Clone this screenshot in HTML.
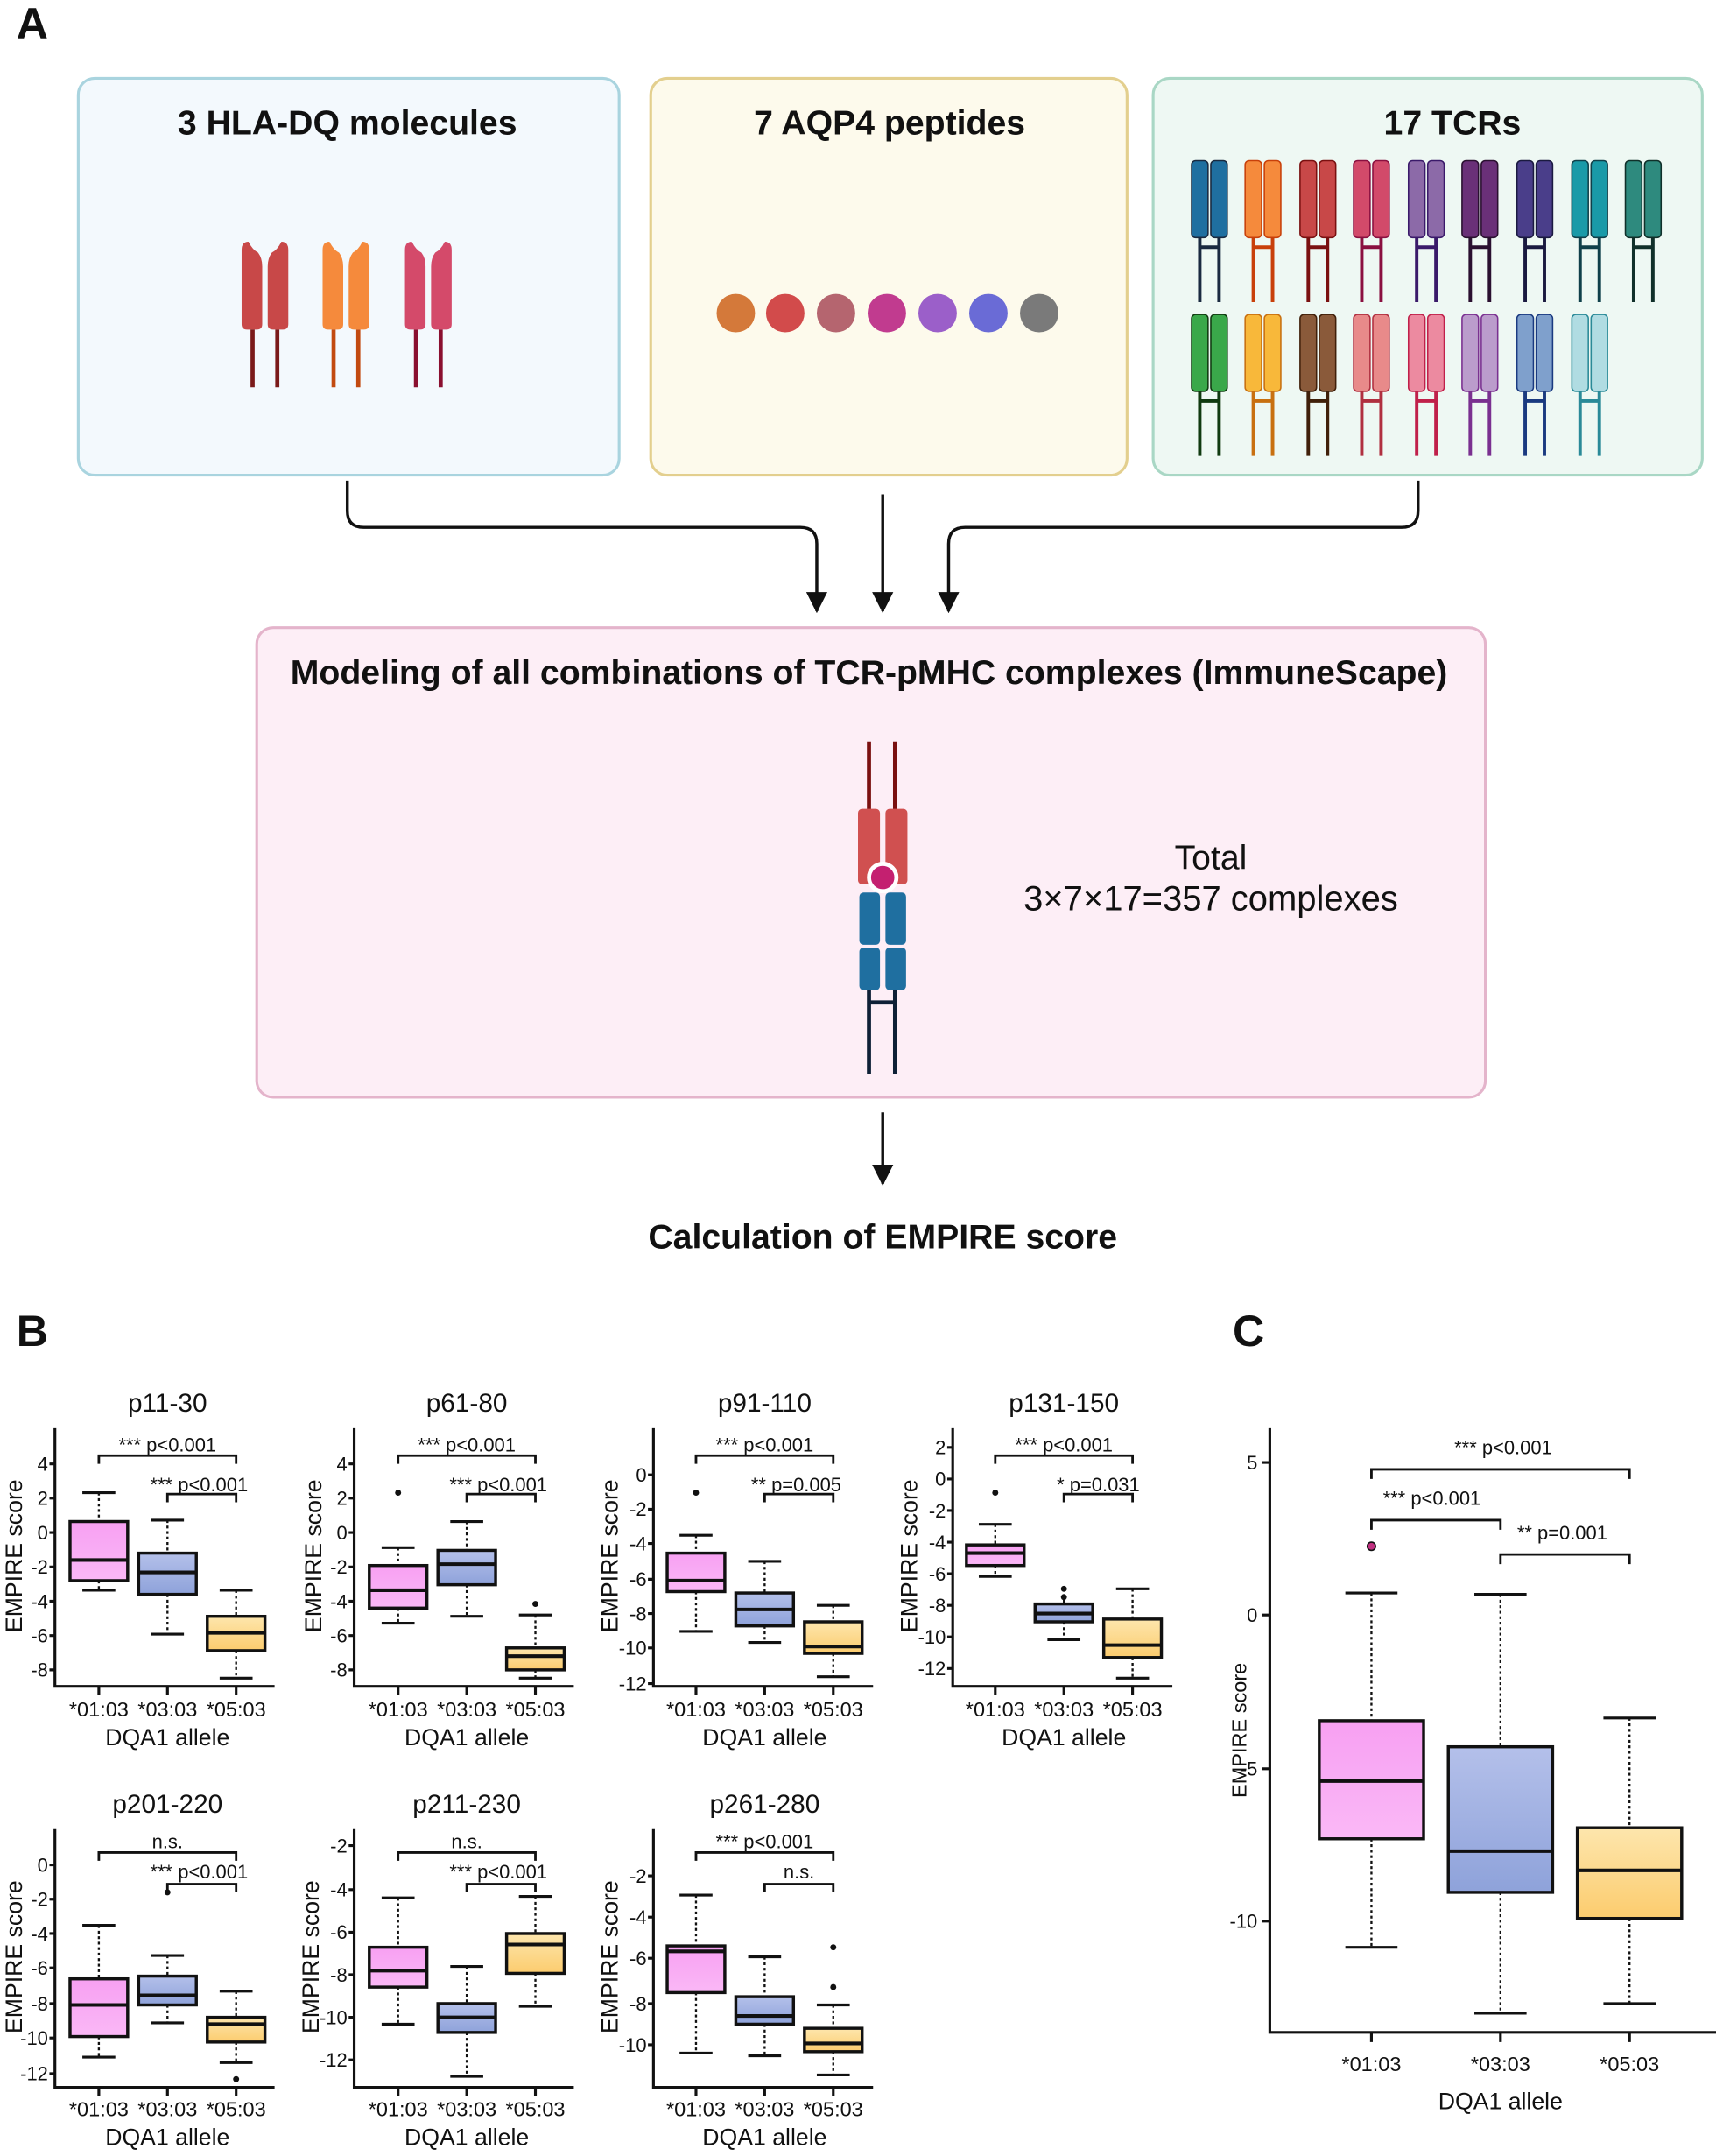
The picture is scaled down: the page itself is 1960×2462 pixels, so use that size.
<!DOCTYPE html>
<html><head><meta charset="utf-8"><style>
html,body{margin:0;padding:0;background:#fff}
svg{display:block}
text{font-family:"Liberation Sans",Arial,sans-serif;fill:#111}
.t{font-size:25px;font-weight:bold;text-anchor:middle}
.pt{font-size:19px;text-anchor:middle}
.tk{font-size:14px;text-anchor:end}
.xl{font-size:15px;text-anchor:middle}
.al{font-size:17px;text-anchor:middle}
.sg{font-size:14px;text-anchor:middle}
.ax{fill:none;stroke:#111;stroke-width:2}
.br{fill:none;stroke:#111;stroke-width:1.8}
.bx{stroke:#111;stroke-width:2.2}
.wh{stroke:#111;stroke-width:1.5;stroke-dasharray:2 2}
.cp{stroke:#111;stroke-width:2}
.md{stroke:#111;stroke-width:2.6}
</style></head><body>
<svg width="1960" height="2462" viewBox="0 0 1250 1570" preserveAspectRatio="none" xmlns="http://www.w3.org/2000/svg">
<defs>
<linearGradient id="gp" x1="0" y1="0" x2="0" y2="1"><stop offset="0" stop-color="#f7a0f2"/><stop offset="1" stop-color="#fab8f6"/></linearGradient>
<linearGradient id="gb" x1="0" y1="0" x2="0" y2="1"><stop offset="0" stop-color="#b4c0ea"/><stop offset="1" stop-color="#8ea2da"/></linearGradient>
<linearGradient id="gy" x1="0" y1="0" x2="0" y2="1"><stop offset="0" stop-color="#fde6ad"/><stop offset="1" stop-color="#fccc6e"/></linearGradient>
<marker id="ar" viewBox="0 0 10 10" refX="9" refY="5" markerWidth="7" markerHeight="7" orient="auto"><path d="M0,0 L10,5 L0,10 z" fill="#111"/></marker>
</defs>

<text x="12" y="28" style="font-size:32px;font-weight:bold">A</text>
<rect x="57" y="57" width="394" height="289" rx="12" fill="#f3f9fd" stroke="#a9d4df" stroke-width="2"/>
<rect x="474" y="57" width="347" height="289" rx="12" fill="#fdfaec" stroke="#e3cf8e" stroke-width="2"/>
<rect x="840" y="57" width="400" height="289" rx="12" fill="#eef8f3" stroke="#a9d7c5" stroke-width="2"/>
<text class="t" x="253" y="98">3 HLA-DQ molecules</text>
<text class="t" x="648" y="98">7 AQP4 peptides</text>
<text class="t" x="1058" y="98">17 TCRs</text>

<!-- MHC -->
<g>
<path d="M176 182 Q176 176 181 176 Q184 182 188 184 Q191 188 191 194 V236 Q191 240 187 240 H180 Q176 240 176 236Z" fill="#c84848"/>
<path d="M210 182 Q210 176 205 176 Q202 182 198 184 Q195 188 195 194 V236 Q195 240 199 240 H206 Q210 240 210 236Z" fill="#c84848"/>
<line x1="184" y1="240" x2="184" y2="282" stroke="#7a1a1a" stroke-width="3"/><line x1="202" y1="240" x2="202" y2="282" stroke="#7a1a1a" stroke-width="3"/>
<path d="M235 182 Q235 176 240 176 Q243 182 247 184 Q250 188 250 194 V236 Q250 240 246 240 H239 Q235 240 235 236Z" fill="#f58a3c"/>
<path d="M269 182 Q269 176 264 176 Q261 182 257 184 Q254 188 254 194 V236 Q254 240 258 240 H265 Q269 240 269 236Z" fill="#f58a3c"/>
<line x1="243" y1="240" x2="243" y2="282" stroke="#c24a10" stroke-width="3"/><line x1="261" y1="240" x2="261" y2="282" stroke="#c24a10" stroke-width="3"/>
<path d="M295 182 Q295 176 300 176 Q303 182 307 184 Q310 188 310 194 V236 Q310 240 306 240 H299 Q295 240 295 236Z" fill="#d44a6a"/>
<path d="M329 182 Q329 176 324 176 Q321 182 317 184 Q314 188 314 194 V236 Q314 240 318 240 H325 Q329 240 329 236Z" fill="#d44a6a"/>
<line x1="303" y1="240" x2="303" y2="282" stroke="#8a1030" stroke-width="3"/><line x1="321" y1="240" x2="321" y2="282" stroke="#8a1030" stroke-width="3"/>
</g>

<!-- peptides -->
<circle cx="536" cy="228" r="14" fill="#d4793a"/><circle cx="572" cy="228" r="14" fill="#d24b4b"/><circle cx="609" cy="228" r="14" fill="#b5656f"/><circle cx="646" cy="228" r="14" fill="#c13b8f"/><circle cx="683" cy="228" r="14" fill="#9b5fc9"/><circle cx="720" cy="228" r="14" fill="#6a6bd6"/><circle cx="757" cy="228" r="14" fill="#7a7a7a"/>

<!-- TCRs row1 -->
<g>
<g fill="#1f6fa0" stroke="#1a2a40"><rect x="868" y="117" width="12" height="56" rx="3"/><rect x="882" y="117" width="12" height="56" rx="3"/><path d="M874 173v47M888 173v47M874 180h14" stroke-width="2.5" fill="none"/></g>
<g fill="#f58a3c" stroke="#c8400a"><rect x="907" y="117" width="12" height="56" rx="3"/><rect x="921" y="117" width="12" height="56" rx="3"/><path d="M913 173v47M927 173v47M913 180h14" stroke-width="2.5" fill="none"/></g>
<g fill="#c84848" stroke="#7a1010"><rect x="947" y="117" width="12" height="56" rx="3"/><rect x="961" y="117" width="12" height="56" rx="3"/><path d="M953 173v47M967 173v47M953 180h14" stroke-width="2.5" fill="none"/></g>
<g fill="#d24a6a" stroke="#8a1040"><rect x="986" y="117" width="12" height="56" rx="3"/><rect x="1000" y="117" width="12" height="56" rx="3"/><path d="M992 173v47M1006 173v47M992 180h14" stroke-width="2.5" fill="none"/></g>
<g fill="#8c6aa8" stroke="#3a1a6a"><rect x="1026" y="117" width="12" height="56" rx="3"/><rect x="1040" y="117" width="12" height="56" rx="3"/><path d="M1032 173v47M1046 173v47M1032 180h14" stroke-width="2.5" fill="none"/></g>
<g fill="#6a3078" stroke="#2a1030"><rect x="1065" y="117" width="12" height="56" rx="3"/><rect x="1079" y="117" width="12" height="56" rx="3"/><path d="M1071 173v47M1085 173v47M1071 180h14" stroke-width="2.5" fill="none"/></g>
<g fill="#4a3e8a" stroke="#1a1a40"><rect x="1105" y="117" width="12" height="56" rx="3"/><rect x="1119" y="117" width="12" height="56" rx="3"/><path d="M1111 173v47M1125 173v47M1111 180h14" stroke-width="2.5" fill="none"/></g>
<g fill="#1a9aa8" stroke="#10404a"><rect x="1145" y="117" width="12" height="56" rx="3"/><rect x="1159" y="117" width="12" height="56" rx="3"/><path d="M1151 173v47M1165 173v47M1151 180h14" stroke-width="2.5" fill="none"/></g>
<g fill="#2e8a7e" stroke="#10302a"><rect x="1184" y="117" width="12" height="56" rx="3"/><rect x="1198" y="117" width="12" height="56" rx="3"/><path d="M1190 173v47M1204 173v47M1190 180h14" stroke-width="2.5" fill="none"/></g>
</g>
<g>
<g fill="#3aa84a" stroke="#103a10"><rect x="868" y="229" width="12" height="56" rx="3"/><rect x="882" y="229" width="12" height="56" rx="3"/><path d="M874 285v47M888 285v47M874 292h14" stroke-width="2.5" fill="none"/></g>
<g fill="#f8b83a" stroke="#c87010"><rect x="907" y="229" width="12" height="56" rx="3"/><rect x="921" y="229" width="12" height="56" rx="3"/><path d="M913 285v47M927 285v47M913 292h14" stroke-width="2.5" fill="none"/></g>
<g fill="#8a5a3a" stroke="#40200a"><rect x="947" y="229" width="12" height="56" rx="3"/><rect x="961" y="229" width="12" height="56" rx="3"/><path d="M953 285v47M967 285v47M953 292h14" stroke-width="2.5" fill="none"/></g>
<g fill="#e88a8a" stroke="#b03040"><rect x="986" y="229" width="12" height="56" rx="3"/><rect x="1000" y="229" width="12" height="56" rx="3"/><path d="M992 285v47M1006 285v47M992 292h14" stroke-width="2.5" fill="none"/></g>
<g fill="#ec8aa0" stroke="#c0204a"><rect x="1026" y="229" width="12" height="56" rx="3"/><rect x="1040" y="229" width="12" height="56" rx="3"/><path d="M1032 285v47M1046 285v47M1032 292h14" stroke-width="2.5" fill="none"/></g>
<g fill="#bb9ccc" stroke="#7a3090"><rect x="1065" y="229" width="12" height="56" rx="3"/><rect x="1079" y="229" width="12" height="56" rx="3"/><path d="M1071 285v47M1085 285v47M1071 292h14" stroke-width="2.5" fill="none"/></g>
<g fill="#7fa0cc" stroke="#1a3a80"><rect x="1105" y="229" width="12" height="56" rx="3"/><rect x="1119" y="229" width="12" height="56" rx="3"/><path d="M1111 285v47M1125 285v47M1111 292h14" stroke-width="2.5" fill="none"/></g>
<g fill="#b0dce2" stroke="#2a8a98"><rect x="1145" y="229" width="12" height="56" rx="3"/><rect x="1159" y="229" width="12" height="56" rx="3"/><path d="M1151 285v47M1165 285v47M1151 292h14" stroke-width="2.5" fill="none"/></g>
</g>

<!-- arrows -->
<path d="M253 350 V372 q0 12 12 12 H583 q12 0 12 12 V445" fill="none" stroke="#111" stroke-width="2.2" marker-end="url(#ar)"/>
<path d="M643 360 V445" fill="none" stroke="#111" stroke-width="2.2" marker-end="url(#ar)"/>
<path d="M1033 350 V372 q0 12-12 12 H703 q-12 0-12 12 V445" fill="none" stroke="#111" stroke-width="2.2" marker-end="url(#ar)"/>

<rect x="187" y="457" width="895" height="342" rx="12" fill="#fdeef6" stroke="#e4b4cb" stroke-width="2"/>
<text class="t" x="633" y="498" style="font-size:25px">Modeling of all combinations of TCR-pMHC complexes (ImmuneScape)</text>
<!-- complex -->
<line x1="633" y1="540" x2="633" y2="592" stroke="#7a1010" stroke-width="3"/><line x1="652" y1="540" x2="652" y2="592" stroke="#7a1010" stroke-width="3"/>
<rect x="625" y="589" width="16" height="55" rx="3" fill="#d05050"/><rect x="645" y="589" width="16" height="55" rx="3" fill="#d05050"/>
<rect x="626" y="650" width="15" height="38" rx="3" fill="#1f6fa0"/><rect x="645" y="650" width="15" height="38" rx="3" fill="#1f6fa0"/>
<rect x="626" y="690" width="15" height="31" rx="3" fill="#1f6fa0"/><rect x="645" y="690" width="15" height="31" rx="3" fill="#1f6fa0"/>
<circle cx="643" cy="639" r="10" fill="#c42070" stroke="#fff" stroke-width="3"/>
<path d="M633 721V782M652 721V782M633 730h19" stroke="#0e2036" stroke-width="3" fill="none"/>
<text x="882" y="633" style="font-size:25px;text-anchor:middle">Total</text>
<text x="882" y="663" style="font-size:25.5px;text-anchor:middle">3×7×17=357 complexes</text>
<path d="M643 810 V862" fill="none" stroke="#111" stroke-width="2.2" marker-end="url(#ar)"/>
<text class="t" x="643" y="909">Calculation of EMPIRE score</text>

<text x="12" y="980" style="font-size:32px;font-weight:bold">B</text>
<text x="898" y="980" style="font-size:32px;font-weight:bold">C</text>

<!-- Panel 1 p11-30 -->
<g>
<text class="pt" x="122" y="1028">p11-30</text>
<path class="ax" d="M40 1040V1228H200M72 1228v6M122 1228v6M172 1228v6M36 1066h4M36 1091h4M36 1116h4M36 1141h4M36 1166h4M36 1191h4M36 1216h4"/>
<text class="tk" x="35" y="1071">4</text><text class="tk" x="35" y="1096">2</text><text class="tk" x="35" y="1121">0</text><text class="tk" x="35" y="1146">-2</text><text class="tk" x="35" y="1171">-4</text><text class="tk" x="35" y="1196">-6</text><text class="tk" x="35" y="1221">-8</text>
<text class="al" transform="translate(16 1133) rotate(-90)">EMPIRE score</text>
<text class="xl" x="72" y="1250">*01:03</text><text class="xl" x="122" y="1250">*03:03</text><text class="xl" x="172" y="1250">*05:03</text>
<text class="al" x="122" y="1271">DQA1 allele</text>
<path class="br" d="M72 1066v-6h100v6M122 1094v-6h50v6"/>
<text class="sg" x="122" y="1057">*** p&lt;0.001</text><text class="sg" x="145" y="1086">*** p&lt;0.001</text>
<path class="cp" d="M60 1087h24M60 1158h24M110 1107h24M110 1190h24M160 1158h24M160 1222h24"/>
<path class="wh" d="M72 1087v21M72 1151v7M122 1107v24M122 1161v29M172 1158v19M172 1202v20"/>
<rect class="bx" x="51" y="1108" width="42" height="43" fill="url(#gp)"/><rect class="bx" x="101" y="1131" width="42" height="30" fill="url(#gb)"/><rect class="bx" x="151" y="1177" width="42" height="25" fill="url(#gy)"/>
<path class="md" d="M51 1136h42M101 1145h42M151 1189h42"/>
</g>

<!-- Panel 2 p61-80 -->
<g>
<text class="pt" x="340" y="1028">p61-80</text>
<path class="ax" d="M258 1040V1228H418M290 1228v6M340 1228v6M390 1228v6M254 1066h4M254 1091h4M254 1116h4M254 1141h4M254 1166h4M254 1191h4M254 1216h4"/>
<text class="tk" x="253" y="1071">4</text><text class="tk" x="253" y="1096">2</text><text class="tk" x="253" y="1121">0</text><text class="tk" x="253" y="1146">-2</text><text class="tk" x="253" y="1171">-4</text><text class="tk" x="253" y="1196">-6</text><text class="tk" x="253" y="1221">-8</text>
<text class="al" transform="translate(234 1133) rotate(-90)">EMPIRE score</text>
<text class="xl" x="290" y="1250">*01:03</text><text class="xl" x="340" y="1250">*03:03</text><text class="xl" x="390" y="1250">*05:03</text>
<text class="al" x="340" y="1271">DQA1 allele</text>
<path class="br" d="M290 1066v-6h100v6M340 1094v-6h50v6"/>
<text class="sg" x="340" y="1057">*** p&lt;0.001</text><text class="sg" x="363" y="1086">*** p&lt;0.001</text>
<circle cx="290" cy="1087" r="2.2" fill="#111"/><circle cx="390" cy="1168" r="2.2" fill="#111"/>
<path class="cp" d="M278 1127h24M278 1182h24M328 1108h24M328 1177h24M378 1176h24M378 1222h24"/>
<path class="wh" d="M290 1127v13M290 1171v11M340 1108v21M340 1154v23M390 1176v24M390 1216v6"/>
<rect class="bx" x="269" y="1140" width="42" height="31" fill="url(#gp)"/><rect class="bx" x="319" y="1129" width="42" height="25" fill="url(#gb)"/><rect class="bx" x="369" y="1200" width="42" height="16" fill="url(#gy)"/>
<path class="md" d="M269 1158h42M319 1139h42M369 1206h42"/>
</g>

<!-- Panel 3 p91-110 -->
<g>
<text class="pt" x="557" y="1028">p91-110</text>
<path class="ax" d="M476 1040V1228H636M507 1228v6M557 1228v6M607 1228v6M472 1074h4M472 1099h4M472 1124h4M472 1150h4M472 1175h4M472 1200h4M472 1226h4"/>
<text class="tk" x="471" y="1079">0</text><text class="tk" x="471" y="1104">-2</text><text class="tk" x="471" y="1129">-4</text><text class="tk" x="471" y="1155">-6</text><text class="tk" x="471" y="1180">-8</text><text class="tk" x="471" y="1205">-10</text><text class="tk" x="471" y="1231">-12</text>
<text class="al" transform="translate(450 1133) rotate(-90)">EMPIRE score</text>
<text class="xl" x="507" y="1250">*01:03</text><text class="xl" x="557" y="1250">*03:03</text><text class="xl" x="607" y="1250">*05:03</text>
<text class="al" x="557" y="1271">DQA1 allele</text>
<path class="br" d="M507 1066v-6h100v6M557 1094v-6h50v6"/>
<text class="sg" x="557" y="1057">*** p&lt;0.001</text><text class="sg" x="580" y="1086">** p=0.005</text>
<circle cx="507" cy="1087" r="2.2" fill="#111"/>
<path class="cp" d="M495 1118h24M495 1188h24M545 1137h24M545 1196h24M595 1169h24M595 1221h24"/>
<path class="wh" d="M507 1118v13M507 1159v29M557 1137v23M557 1184v12M607 1169v12M607 1204v17"/>
<rect class="bx" x="486" y="1131" width="42" height="28" fill="url(#gp)"/><rect class="bx" x="536" y="1160" width="42" height="24" fill="url(#gb)"/><rect class="bx" x="586" y="1181" width="42" height="23" fill="url(#gy)"/>
<path class="md" d="M486 1151h42M536 1172h42M586 1199h42"/>
</g>

<!-- Panel 4 p131-150 -->
<g>
<text class="pt" x="775" y="1028">p131-150</text>
<path class="ax" d="M694 1040V1228H854M725 1228v6M775 1228v6M825 1228v6M690 1054h4M690 1077h4M690 1100h4M690 1123h4M690 1146h4M690 1169h4M690 1192h4M690 1215h4"/>
<text class="tk" x="689" y="1059">2</text><text class="tk" x="689" y="1082">0</text><text class="tk" x="689" y="1105">-2</text><text class="tk" x="689" y="1128">-4</text><text class="tk" x="689" y="1151">-6</text><text class="tk" x="689" y="1174">-8</text><text class="tk" x="689" y="1197">-10</text><text class="tk" x="689" y="1220">-12</text>
<text class="al" transform="translate(668 1133) rotate(-90)">EMPIRE score</text>
<text class="xl" x="725" y="1250">*01:03</text><text class="xl" x="775" y="1250">*03:03</text><text class="xl" x="825" y="1250">*05:03</text>
<text class="al" x="775" y="1271">DQA1 allele</text>
<path class="br" d="M725 1066v-6h100v6M775 1094v-6h50v6"/>
<text class="sg" x="775" y="1057">*** p&lt;0.001</text><text class="sg" x="800" y="1086">* p=0.031</text>
<circle cx="725" cy="1087" r="2.2" fill="#111"/><circle cx="775" cy="1157" r="2.2" fill="#111"/><circle cx="775" cy="1163" r="2.2" fill="#111"/>
<path class="cp" d="M713 1110h24M713 1148h24M763 1168h24M763 1194h24M813 1157h24M813 1222h24"/>
<path class="wh" d="M725 1110v15M725 1140v8M775 1157v11M775 1181v13M825 1157v22M825 1207v15"/>
<rect class="bx" x="704" y="1125" width="42" height="15" fill="url(#gp)"/><rect class="bx" x="754" y="1168" width="42" height="13" fill="url(#gb)"/><rect class="bx" x="804" y="1179" width="42" height="28" fill="url(#gy)"/>
<path class="md" d="M704 1131h42M754 1175h42M804 1198h42"/>
</g>

<!-- Panel 5 p201-220 -->
<g>
<text class="pt" x="122" y="1320">p201-220</text>
<path class="ax" d="M40 1332V1520H200M72 1520v6M122 1520v6M172 1520v6M36 1358h4M36 1383h4M36 1408h4M36 1433h4M36 1459h4M36 1484h4M36 1510h4"/>
<text class="tk" x="35" y="1363">0</text><text class="tk" x="35" y="1388">-2</text><text class="tk" x="35" y="1413">-4</text><text class="tk" x="35" y="1438">-6</text><text class="tk" x="35" y="1464">-8</text><text class="tk" x="35" y="1489">-10</text><text class="tk" x="35" y="1515">-12</text>
<text class="al" transform="translate(16 1425) rotate(-90)">EMPIRE score</text>
<text class="xl" x="72" y="1541">*01:03</text><text class="xl" x="122" y="1541">*03:03</text><text class="xl" x="172" y="1541">*05:03</text>
<text class="al" x="122" y="1562">DQA1 allele</text>
<path class="br" d="M72 1355v-6h100v6M122 1378v-6h50v6"/>
<text class="sg" x="122" y="1346">n.s.</text><text class="sg" x="145" y="1368">*** p&lt;0.001</text>
<circle cx="122" cy="1378" r="2.2" fill="#111"/><circle cx="172" cy="1514" r="2.2" fill="#111"/>
<path class="cp" d="M60 1402h24M60 1498h24M110 1424h24M110 1473h24M160 1450h24M160 1502h24"/>
<path class="wh" d="M72 1402v39M72 1483v15M122 1424v15M122 1460v13M172 1450v19M172 1487v15"/>
<rect class="bx" x="51" y="1441" width="42" height="42" fill="url(#gp)"/><rect class="bx" x="101" y="1439" width="42" height="21" fill="url(#gb)"/><rect class="bx" x="151" y="1469" width="42" height="18" fill="url(#gy)"/>
<path class="md" d="M51 1460h42M101 1453h42M151 1474h42"/>
</g>

<!-- Panel 6 p211-230 -->
<g>
<text class="pt" x="340" y="1320">p211-230</text>
<path class="ax" d="M258 1332V1520H418M290 1520v6M340 1520v6M390 1520v6M254 1344h4M254 1376h4M254 1407h4M254 1438h4M254 1469h4M254 1500h4"/>
<text class="tk" x="253" y="1349">-2</text><text class="tk" x="253" y="1381">-4</text><text class="tk" x="253" y="1412">-6</text><text class="tk" x="253" y="1443">-8</text><text class="tk" x="253" y="1474">-10</text><text class="tk" x="253" y="1505">-12</text>
<text class="al" transform="translate(232 1425) rotate(-90)">EMPIRE score</text>
<text class="xl" x="290" y="1541">*01:03</text><text class="xl" x="340" y="1541">*03:03</text><text class="xl" x="390" y="1541">*05:03</text>
<text class="al" x="340" y="1562">DQA1 allele</text>
<path class="br" d="M290 1355v-6h100v6M340 1378v-6h50v6"/>
<text class="sg" x="340" y="1346">n.s.</text><text class="sg" x="363" y="1368">*** p&lt;0.001</text>
<path class="cp" d="M278 1382h24M278 1474h24M328 1432h24M328 1512h24M378 1381h24M378 1461h24"/>
<path class="wh" d="M290 1382v36M290 1447v27M340 1432v27M340 1480v32M390 1381v27M390 1437v24"/>
<rect class="bx" x="269" y="1418" width="42" height="29" fill="url(#gp)"/><rect class="bx" x="319" y="1459" width="42" height="21" fill="url(#gb)"/><rect class="bx" x="369" y="1408" width="42" height="29" fill="url(#gy)"/>
<path class="md" d="M269 1435h42M319 1469h42M369 1416h42"/>
</g>

<!-- Panel 7 p261-280 -->
<g>
<text class="pt" x="557" y="1320">p261-280</text>
<path class="ax" d="M476 1332V1520H636M507 1520v6M557 1520v6M607 1520v6M472 1366h4M472 1396h4M472 1426h4M472 1459h4M472 1489h4"/>
<text class="tk" x="471" y="1371">-2</text><text class="tk" x="471" y="1401">-4</text><text class="tk" x="471" y="1431">-6</text><text class="tk" x="471" y="1464">-8</text><text class="tk" x="471" y="1494">-10</text>
<text class="al" transform="translate(450 1425) rotate(-90)">EMPIRE score</text>
<text class="xl" x="507" y="1541">*01:03</text><text class="xl" x="557" y="1541">*03:03</text><text class="xl" x="607" y="1541">*05:03</text>
<text class="al" x="557" y="1562">DQA1 allele</text>
<path class="br" d="M507 1355v-6h100v6M557 1378v-6h50v6"/>
<text class="sg" x="557" y="1346">*** p&lt;0.001</text><text class="sg" x="582" y="1368">n.s.</text>
<circle cx="607" cy="1418" r="2.2" fill="#111"/><circle cx="607" cy="1447" r="2.2" fill="#111"/>
<path class="cp" d="M495 1380h24M495 1495h24M545 1425h24M545 1497h24M595 1460h24M595 1511h24"/>
<path class="wh" d="M507 1380v37M507 1451v44M557 1425v29M557 1474v23M607 1460v17M607 1494v17"/>
<rect class="bx" x="486" y="1417" width="42" height="34" fill="url(#gp)"/><rect class="bx" x="536" y="1454" width="42" height="20" fill="url(#gb)"/><rect class="bx" x="586" y="1477" width="42" height="17" fill="url(#gy)"/>
<path class="md" d="M486 1421h42M536 1468h42M586 1488h42"/>
</g>

<!-- Panel C -->
<g>
<path class="ax" d="M925 1040V1480H1250M999 1480v7M1093 1480v7M1187 1480v7M919 1065h6M919 1176h6M919 1288h6M919 1399h6"/>
<text class="tk" x="916" y="1070">5</text><text class="tk" x="916" y="1181">0</text><text class="tk" x="916" y="1293">-5</text><text class="tk" x="916" y="1404">-10</text>
<text class="al" style="font-size:15px" transform="translate(908 1260) rotate(-90)">EMPIRE score</text>
<text class="xl" x="999" y="1508">*01:03</text><text class="xl" x="1093" y="1508">*03:03</text><text class="xl" x="1187" y="1508">*05:03</text>
<text class="al" x="1093" y="1536">DQA1 allele</text>
<path class="br" d="M999 1077v-7h188v7M999 1114v-7h94v7M1093 1139v-7h94v7"/>
<text class="sg" x="1095" y="1059">*** p&lt;0.001</text><text class="sg" x="1043" y="1096">*** p&lt;0.001</text><text class="sg" x="1138" y="1121">** p=0.001</text>
<circle cx="999" cy="1126" r="3" fill="#c03080" stroke="#111" stroke-width="1"/>
<path class="cp" d="M980 1160h38M980 1418h38M1074 1161h38M1074 1466h38M1168 1251h38M1168 1459h38"/>
<path class="wh" d="M999 1160v93M999 1339v79M1093 1161v111M1093 1378v88M1187 1251v80M1187 1397v62"/>
<rect class="bx" x="961" y="1253" width="76" height="86" fill="url(#gp)"/><rect class="bx" x="1055" y="1272" width="76" height="106" fill="url(#gb)"/><rect class="bx" x="1149" y="1331" width="76" height="66" fill="url(#gy)"/>
<path class="md" d="M961 1297h76M1055 1348h76M1149 1362h76"/>
</g>
</svg>
</body></html>
